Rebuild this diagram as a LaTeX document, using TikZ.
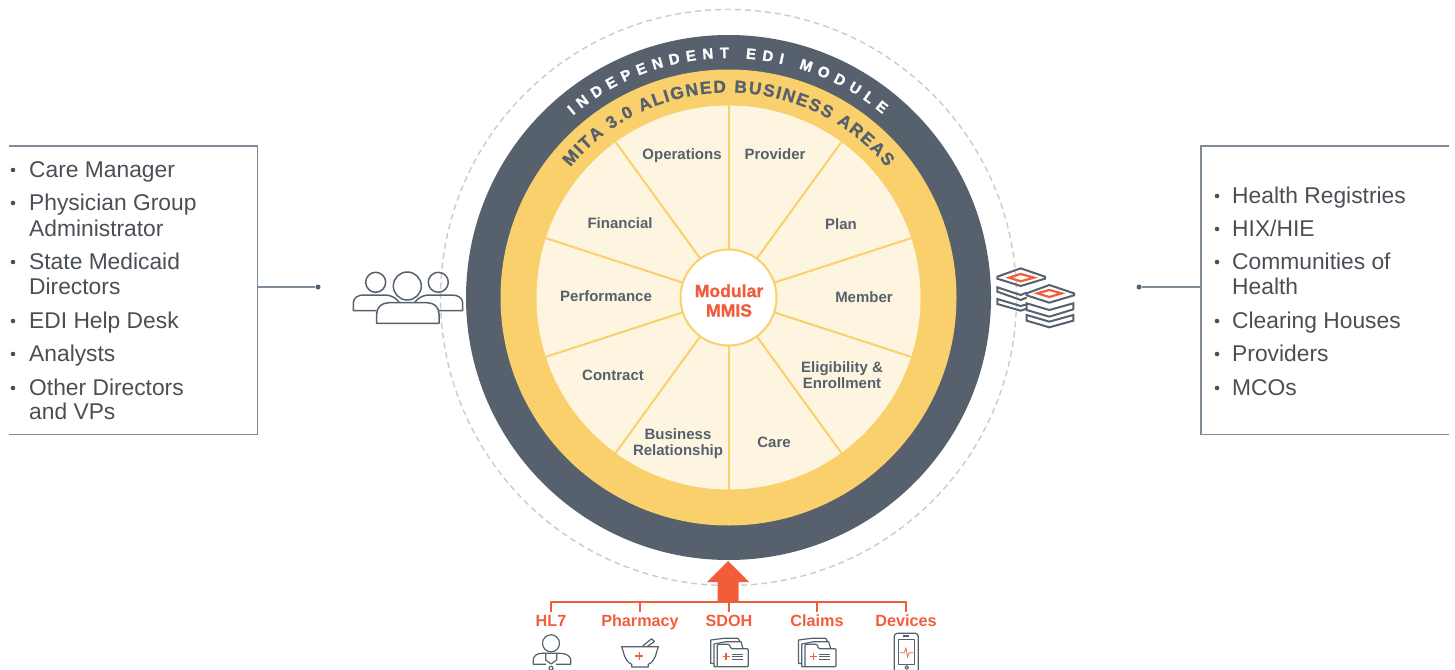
\documentclass[tikz,border=0pt]{standalone}
\usepackage{fontspec}
\setmainfont{Liberation Sans}
\newfontfamily\heavyfont[FakeBold=1.2]{Liberation Sans Bold}
\usetikzlibrary{shapes, decorations.text}

\definecolor{slate}{HTML}{56616D}
\definecolor{gold}{HTML}{FAD06C}
\definecolor{cream}{HTML}{FDF5E0}
\definecolor{flame}{HTML}{F15D3B}
\definecolor{boxline}{HTML}{7F8B97}
\definecolor{listink}{HTML}{4A4F55}
\definecolor{halo}{HTML}{C9CBCC}

\begin{document}
\begin{tikzpicture}[
    x=1pt, y=-1pt,
    disc/.style={shape=circle, inner sep=0pt, outer sep=0pt},
    area/.style={font=\fontsize{15}{16}\selectfont\bfseries, text=slate, align=center, inner sep=0pt},
    spoke/.style={draw=gold, line width=2pt},
    listitem/.style={font=\fontsize{22.8}{24}\selectfont, text=listink, anchor=base west, inner sep=0pt},
    blip/.style={shape=circle, fill=listink, inner sep=0pt, minimum size=4.6pt},
    boxedge/.style={draw=boxline, line width=1.4pt},
    linkline/.style={draw=boxline, line width=1.2pt},
    linkdot/.style={shape=circle, fill=slate, inner sep=0pt, minimum size=5pt},
    feed/.style={font=\fontsize{16.2}{16.2}\selectfont\bfseries, text=flame, inner sep=0pt},
    feedline/.style={draw=flame, line width=2.3pt},
    iconline/.style={draw=slate, line width=1.5pt, line join=round},
    stackline/.style={draw=slate, line width=2pt, line join=miter},
    iconred/.style={draw=flame, line width=1.1pt},
]
\useasboundingbox (0,0) rectangle (1455,669);

% circles
\node[disc, draw=halo, line width=1.4pt, dash pattern=on 6pt off 4pt, minimum size=576pt] (haloRing) at (728.5,297.5) {};
\node[disc, fill=slate, minimum size=525pt] (moduleDisc) at (728.5,297.5) {};
\node[disc, fill=gold, minimum size=456pt] (goldDisc) at (728.5,297.5) {};
\node[disc, fill=cream, minimum size=384pt] (creamDisc) at (728.5,297.5) {};
\foreach \a in {18,54,...,342} {
    \draw[spoke] (728.5,297.5) -- (creamDisc.\a);
}
\node[disc, fill=white, draw=gold, line width=2pt, minimum size=96pt] (hub) at (728.5,297.5) {};
\node[font=\fontsize{17.6}{19.5}\selectfont\heavyfont, text=flame, align=center, inner sep=0pt] (hubLabel) at (729,300.5) {Modular\\MMIS};

% ring titles
\path[decorate, decoration={text along path, text align={fit to path},
    text={|\fontsize{15}{15}\selectfont\heavyfont\color{white}|INDEPENDENT EDI MODULE}}]
    (moduleDisc.center) ++(130.5:239.5pt) arc[start angle=130.5, end angle=50, radius=239.5pt];
\path[decorate, decoration={text along path, text align={fit to path},
    text={|\fontsize{17.4}{17.4}\selectfont\heavyfont\color{slate}|MITA 3.0 ALIGNED BUSINESS AREAS}}]
    (moduleDisc.center) ++(140.5:205pt) arc[start angle=140.5, end angle=39.5, radius=205pt];

% business areas
\node[area] (operations) at (682,155.5) {Operations};
\node[area] (provider) at (775,154) {Provider};
\node[area] (financial) at (620,223) {Financial};
\node[area] (plan) at (841,224) {Plan};
\node[area] (performance) at (606,296) {Performance};
\node[area] (member) at (864,297) {Member};
\node[area] (contract) at (613,375.5) {Contract};
\node[area] (eligibility) at (842,375.5) {Eligibility \&\\Enrollment};
\node[area] (relationship) at (678,443.5) {Business\\Relationship};
\node[area] (care) at (774,442.5) {Care};

% left list
\node[minimum width=248pt, minimum height=288pt, inner sep=0pt] (usersBox) at (133,290) {};
\draw[boxedge] (usersBox.north west) -- (usersBox.north east) -- (usersBox.south east) -- (usersBox.south west);
\foreach \ypos/\ltext in {177/Care Manager, 210/Physician Group, 269/State Medicaid, 328/EDI Help Desk, 361/Analysts, 395/Other Directors} {
    \node[blip] at (13,\ypos-7) {};
    \node[listitem] at (29,\ypos) {\ltext};
}
\node[listitem] at (29,236) {Administrator};
\node[listitem] at (29,294) {Directors};
\node[listitem] at (29,419) {and VPs};
\node[linkdot] (usersDot) at (318,287) {};
\draw[linkline] (usersBox.east |- usersDot) -- (usersDot);

% right list
\node[minimum width=248pt, minimum height=288pt, inner sep=0pt] (partnersBox) at (1325,290) {};
\draw[boxedge] (partnersBox.north east) -- (partnersBox.north west) -- (partnersBox.south west) -- (partnersBox.south east);
\foreach \ypos/\ltext in {203/Health Registries, 236/{HIX/HIE}, 269/Communities of, 328/Clearing Houses, 361/Providers, 395/MCOs} {
    \node[blip] at (1217,\ypos-7) {};
    \node[listitem] at (1232,\ypos) {\ltext};
}
\node[listitem] at (1232,294) {Health};
\node[linkdot] (partnersDot) at (1139,287) {};
\draw[linkline] (partnersDot) -- (partnersBox.west |- partnersDot);

% feeds
\fill[flame] (728,561) -- (749,582) -- (738.5,582) -- (738.5,602) -- (717.5,602) -- (717.5,582) -- (707,582) -- cycle;
\node[feed] (hlseven) at (551,621) {HL7};
\node[feed] (pharmacy) at (640,622.5) {Pharmacy};
\node[feed] (sdoh) at (729,621) {SDOH};
\node[feed] (claims) at (817,621) {Claims};
\node[feed] (devices) at (906,621) {Devices};
\coordinate (feedbar) at (729,602);
\coordinate (feedstop) at (729,612);
\draw[feedline, line cap=round] (hlseven.north |- feedbar) -- (devices.north |- feedbar);
\foreach \n in {hlseven, pharmacy, sdoh, claims, devices} {
    \draw[feedline] (\n.north |- feedbar) -- (\n.north |- feedstop);
}

% people
\draw[iconline] (375.7,282.3) circle (10) (438.3,282.3) circle (10) (407.3,286) circle (14);
\draw[iconline] (376.7,310.7) -- (353.3,310.7) -- (353.3,303) .. controls (353.3,298) and (358,295) .. (363,295) -- (385,295) .. controls (391,295) and (396,298) .. (399,302);
\draw[iconline] (415,302) .. controls (418,298) and (423,295) .. (429,295) -- (452,295) .. controls (458,295) and (462.7,298) .. (462.7,303) -- (462.7,310.7) -- (439,310.7);
\draw[iconline] (376.7,323.3) -- (376.7,314) .. controls (376.7,307) and (382,302.7) .. (389,302.7) -- (427,302.7) .. controls (434,302.7) and (439,307) .. (439,314) -- (439,323.3) -- cycle;

% stacks
\begin{scope}[shift={(980,250)}, x=0.3333pt, y=-0.3333pt]
\draw[stackline] (52,80) -- (122,55) -- (195,80) -- (195,86) -- (122,108) -- (52,86) -- cycle;
\draw[stackline] (140,128) -- (122,135) -- (52,112) -- (52,125) -- (122,150) -- (140,143);
\draw[stackline] (140,163) -- (122,168) -- (52,147) -- (52,162) -- (122,182) -- (140,176);
\draw[stackline] (140,130) -- (208,105) -- (282,130) -- (282,136) -- (208,158) -- (140,136) -- cycle;
\draw[stackline] (140,160) -- (208,180) -- (280,160) -- (280,178) -- (208,200) -- (140,180) -- cycle;
\draw[stackline] (140,195) -- (208,215) -- (280,195) -- (280,212) -- (208,232) -- (140,212) -- cycle;
\draw[flame, line width=2.2pt] (87,83) -- (122,72) -- (162,83) -- (122,94) -- cycle;
\draw[flame, line width=2.2pt] (172,130) -- (208,120) -- (245,130) -- (208,141) -- cycle;
\end{scope}

% feed icons
\draw[iconline, line width=1.2pt] (551,643.3) circle (8.5);
\draw[iconline, line width=1.2pt] (546,664.3) -- (533.3,664.3) -- (533.3,660) .. controls (533.3,656) and (537,653.3) .. (541.7,653.3) -- (560,653.3) .. controls (566,653.3) and (570.7,656) .. (570.7,660) -- (570.7,664.3) -- (556,664.3);
\draw[iconline, line width=1.2pt] (545.7,653.3) -- (545.7,660) -- (551,664) -- (556.7,660) -- (556.7,653.3);
\draw[iconline, line width=1.2pt] (551,668.3) circle (2);

\draw[iconline, line width=1.2pt] (621.7,646.7) -- (658.3,646.7) -- (656.7,651.7) .. controls (655,659) and (652,663) .. (648.3,664.3) -- (648.3,667) -- (631.7,667) -- (631.7,664.3) .. controls (628,663) and (625,659) .. (623.3,651.7) -- cycle;
\draw[iconline, line width=1.2pt] (642,646.7) -- (651.5,638.8) -- (654.5,641.5) -- (647,646.7);
\draw[iconred] (639.3,652) -- (639.3,660) (635.3,656) -- (643.3,656);

\foreach \dx in {0,87.7} {
\begin{scope}[shift={(\dx,0)}]
\draw[iconline, line width=1.2pt] (714,663.5) -- (710.7,663.5) -- (710.7,640) -- (724,638.3) -- (738,638.3) -- (740,641.7);
\draw[iconline, line width=1.2pt] (717.3,666.7) -- (714,666.7) -- (714,644) -- (726,641.7) -- (741,641.7) -- (743,648.7);
\draw[iconline, line width=1.2pt, fill=white, rounded corners=1pt] (717.3,666.7) -- (717.3,644.3) -- (729.3,644.3) -- (731,648.7) -- (748.3,648.7) -- (748.3,666.7) -- cycle;
\draw[iconred] (726,653.2) -- (726,660.2) (722.5,656.7) -- (729.5,656.7);
\draw[iconline, line width=1pt] (731.7,654) -- (742.7,654) (731.7,656.7) -- (742.7,656.7) (731.7,659.3) -- (742.7,659.3);
\end{scope}
}

\draw[iconline, line width=1.2pt, rounded corners=3pt] (894.3,672) -- (894.3,633.3) -- (918.3,633.3) -- (918.3,672);
\draw[iconline, line width=1.1pt] (898.3,639.3) rectangle (914.3,664.3);
\draw[iconline, line width=1.1pt] (903.3,636) -- (909.3,636);
\draw[iconline, line width=1.1pt] (906.7,667.5) circle (1.8);
\draw[flame, line width=0.7pt] (900,652.7) -- (904,652.7) -- (906,648) -- (907.5,657) -- (909,652.7) -- (913,652.7);
\end{tikzpicture}
\end{document}
